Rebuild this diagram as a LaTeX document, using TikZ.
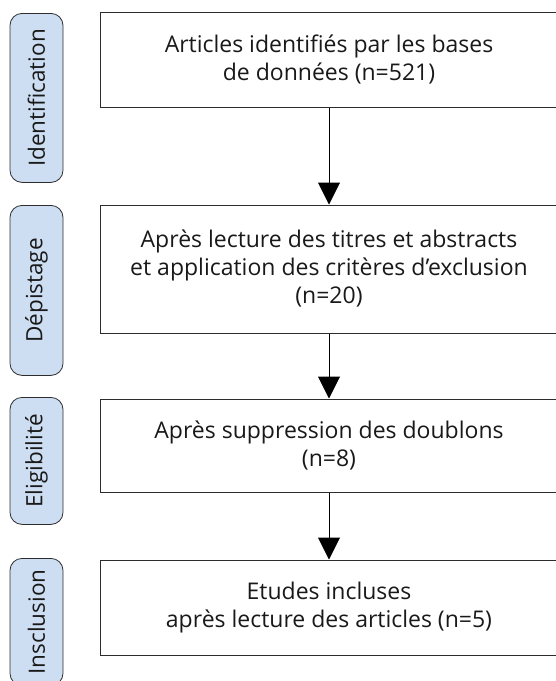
\documentclass[tikz,border=0pt]{standalone}
\usepackage{fontspec}
\setmainfont{Open Sans}
\usepackage{tikz}
\definecolor{phaseblue}{RGB}{205, 221, 242}
\definecolor{linegray}{RGB}{45, 45, 45}
\usetikzlibrary{arrows.meta, positioning}

\begin{document}
\begin{tikzpicture}[
    x=1pt, y=1pt,
    stepbox/.style={rectangle, draw=linegray, line width=1pt, minimum width=458pt, align=center, text=black!90, inner sep=0pt, font=\fontsize{23}{28}\selectfont},
    phase/.style={rectangle, draw=linegray, fill=phaseblue, rounded corners=12pt, line width=0.8pt, rotate=90, anchor=east, minimum height=53pt, inner sep=0pt, text=black!90, font=\fontsize{22.5}{24}\selectfont},
    arrow/.style={-{Triangle[width=22pt, length=22pt]}, line width=1pt, black}
]
    \useasboundingbox (0,0) rectangle (555,-681);

    % flow boxes
    \node[stepbox, minimum height=95pt] (ident) at (329,-59.5) {Articles identifiés par les bases\\de données (n=521)};
    \node[stepbox, minimum height=128pt, below=97pt of ident] (screen) {Après lecture des titres et abstracts\\et application des critères d’exclusion\\(n=20)};
    \node[stepbox, minimum height=93pt, below=65pt of screen] (elig) {Après suppression des doublons\\(n=8)};
    \node[stepbox, minimum height=95pt, below=67pt of elig] (incl) {Etudes incluses\\après lecture des articles (n=5)};

    \draw[arrow] (ident) -- (screen);
    \draw[arrow] (screen) -- (elig);
    \draw[arrow] (elig) -- (incl);

    % phase tabs on the left
    \node[phase, minimum width=169pt] (pident) at (36.5,-13) {Identification};
    \node[phase, minimum width=170pt] (pscreen) at (36.5,-205) {Dépistage};
    \node[phase, minimum width=127pt] (pelig) at (36.5,-397) {Eligibilité};
    \node[phase, minimum width=127pt] (pincl) at (36.5,-558) {Insclusion};
\end{tikzpicture}
\end{document}
